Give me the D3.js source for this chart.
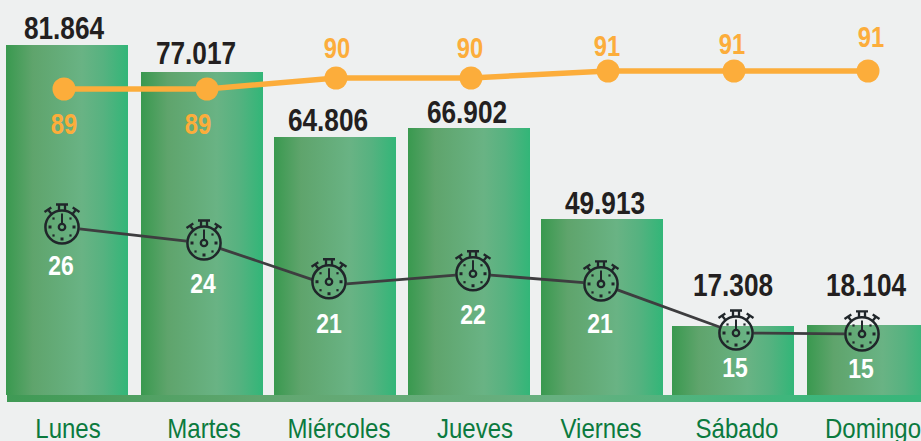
<!DOCTYPE html>
<html><head><meta charset="utf-8">
<script src="https://cdnjs.cloudflare.com/ajax/libs/d3/7.8.5/d3.min.js"></script>
<style>
html,body{margin:0;padding:0;background:#eef0f0;overflow:hidden}
svg{display:block}
text{font-family:"Liberation Sans",sans-serif;text-anchor:middle}
</style></head><body>
<script>
// ---- data
const days = ["Lunes","Martes","Miércoles","Jueves","Viernes","Sábado","Domingo"];
const visitLabels = ["81.864","77.017","64.806","66.902","49.913","17.308","18.104"];
// bars in the picture are not strictly proportional to their labels: drawn length
const visitDrawn = [87500,80750,64500,66750,44000,17250,17500];
const scoreValues = [89,89,90,90,91,91,91];
const timeLabels = [26,24,21,22,21,15,15];
// drawn level of the stopwatch line
const timeDrawn = [26,24.34,20.32,21.15,20.09,15,14.9];

// ---- layout nudges relative to the band centres (px)
const barNudge = [0,1.5,1,1.5,1,-1.5,0];
const scoreNudge = [-3,6.5,2,3.5,7,-.5,0];
const scoreLabelNudge = [-3,-2.5,3,2.5,6,-2.5,3];
const scoreLabelDy = [45,45,-20,-20,-15,-17,-24];
const timeNudge = [-5,3.5,-5,5.5,0,1.5,-6];
const lineDy = [0,0,3.5,0,0,0,0];
const timeLabelNudge = [-6,2.5,-5,5.5,-1,.5,-7];
const timeLabelDy = [48,50,51,50,49,44,44];
const visitLabelNudge = [-3,-4.5,-6,-.5,4,-1.5,-2];
const visitLabelDy = [-6,-8,-6,-5,-5,-30,-29];
const dayNudge = [1,3.5,5,7.5,0,2.5,5];
const narrow = 0.82;
const dayNarrow = 0.89;

const W = 921, H = 441;
const svg = d3.select("body").append("svg").attr("width",W).attr("height",H);
const defs = svg.append("defs");

function grad(id, stops){
  const g = defs.append("linearGradient").attr("id",id).attr("x1","0").attr("x2","1").attr("y1","0").attr("y2","0");
  stops.forEach(([o,c])=>g.append("stop").attr("offset",o).attr("stop-color",c));
}
grad("barG",[[0,"#39994f"],[.22,"#5fa46c"],[.62,"#69b384"],[.8,"#56b280"],[1,"#32b678"]]);
grad("stripG",[[0,"#3f9a55"],[.3,"#62a771"],[.6,"#67b080"],[.85,"#3fb67c"],[1,"#38b67a"]]);

const x = d3.scaleBand().domain(days).range([6,929]).paddingInner(11.5/133.5).paddingOuter(0);
const cx = d => x(d)+x.bandwidth()/2;
const yBar = d3.scaleLinear().domain([0,87500]).range([395,45]);
const yScore = d3.scaleLinear().domain([89,90,91]).range([89,78,71]);
const yTime = d3.scaleLinear().domain([15,26]).range([333,227]);

const bars = days.map((d,i)=>({d,i}));

function narrowText(sel, fx, fy, k){
  return sel.attr("transform",b=>`translate(${fx(b)},${fy(b)}) scale(${k||narrow},1)`);
}

// bars
svg.append("g").selectAll("rect").data(bars).join("rect")
  .attr("x",b=>x(b.d)+barNudge[b.i]).attr("width",x.bandwidth())
  .attr("y",b=>yBar(visitDrawn[b.i])).attr("height",b=>yBar(0)-yBar(visitDrawn[b.i]))
  .attr("fill","url(#barG)");
// baseline strip
svg.append("rect").attr("x",7).attr("y",yBar(0)).attr("width",W-7).attr("height",7).attr("fill","url(#stripG)");

// visit labels
svg.append("g").selectAll("text").data(bars).join("text")
  .call(narrowText,b=>cx(b.d)+visitLabelNudge[b.i],b=>yBar(visitDrawn[b.i])+visitLabelDy[b.i])
  .attr("font-size",32).attr("font-weight",700).attr("fill","#231f20")
  .text(b=>visitLabels[b.i]);

// score line
const orange = "#fcad3b";
svg.append("path").datum(bars)
  .attr("d",d3.line().x(b=>cx(b.d)+scoreNudge[b.i]).y(b=>yScore(scoreValues[b.i])))
  .attr("fill","none").attr("stroke",orange).attr("stroke-width",5.5);
svg.append("g").selectAll("circle").data(bars).join("circle")
  .attr("cx",b=>cx(b.d)+scoreNudge[b.i]).attr("cy",b=>yScore(scoreValues[b.i])).attr("r",11.5).attr("fill",orange);
svg.append("g").selectAll("text").data(bars).join("text")
  .call(narrowText,b=>cx(b.d)+scoreLabelNudge[b.i],b=>yScore(scoreValues[b.i])+scoreLabelDy[b.i])
  .attr("font-size",29).attr("font-weight",700).attr("fill",orange)
  .text(b=>scoreValues[b.i]);

// stopwatch line, stopping at the watch rims
const R = 17.5;
const pts = bars.map(b=>({x:cx(b.d)+timeNudge[b.i], y:yTime(timeDrawn[b.i]), ly:yTime(timeDrawn[b.i])+lineDy[b.i]}));
svg.append("g").selectAll("line").data(d3.pairs(pts)).join("line")
  .each(function([a,b]){
    const L = Math.hypot(b.x-a.x,b.ly-a.ly), ux=(b.x-a.x)/L, uy=(b.ly-a.ly)/L;
    d3.select(this).attr("x1",a.x+ux*R).attr("y1",a.ly+uy*R).attr("x2",b.x-ux*R).attr("y2",b.ly-uy*R);
  })
  .attr("stroke","#3d3d3f").attr("stroke-width",2.8);

// stopwatches
const ink = "#20262a";
const watch = svg.append("g").selectAll("g").data(pts).join("g")
  .attr("transform",p=>`translate(${p.x},${p.y})`)
  .attr("fill","none").attr("stroke",ink);
watch.append("circle").attr("r",16.6).attr("stroke-width",2.5);
watch.append("circle").attr("r",3.2).attr("stroke-width",2.3);
watch.append("path").attr("d","M0,-3.2V-13.5").attr("stroke-width",2);
watch.append("path").attr("d","M-6,-22.5H6M-3,-22.5V-16.5M3,-22.5V-16.5").attr("stroke-width",2.3);
watch.append("path").attr("d","M10.5,-13L14.5,-18M10.7,-19.5L17.5,-15").attr("stroke-width",2.3);
watch.append("path").attr("d","M-10.5,-13L-14.5,-18M-10.7,-19.5L-17.5,-15").attr("stroke-width",2.3);
watch.each(function(){
  const g = d3.select(this);
  d3.range(1,8).forEach(k=>{
    const a = k*Math.PI/4 - Math.PI/2, r = 12;
    const s = k%2? 2.2:3;
    g.append("rect").attr("x",Math.cos(a)*r-s/2).attr("y",Math.sin(a)*r-s/2)
      .attr("width",s).attr("height",s).attr("fill",ink).attr("stroke","none");
  });
});

// stopwatch labels
svg.append("g").selectAll("text").data(bars).join("text")
  .call(narrowText,b=>cx(b.d)+timeLabelNudge[b.i],b=>yTime(timeDrawn[b.i])+timeLabelDy[b.i])
  .attr("font-size",28).attr("font-weight",700).attr("fill","#fff")
  .text(b=>timeLabels[b.i]);

// day labels
svg.append("g").selectAll("text").data(bars).join("text")
  .call(narrowText,b=>cx(b.d)+dayNudge[b.i],()=>438,dayNarrow)
  .attr("font-size",27).attr("fill","#0b7a3e")
  .text(b=>b.d);
</script>
</body></html>
